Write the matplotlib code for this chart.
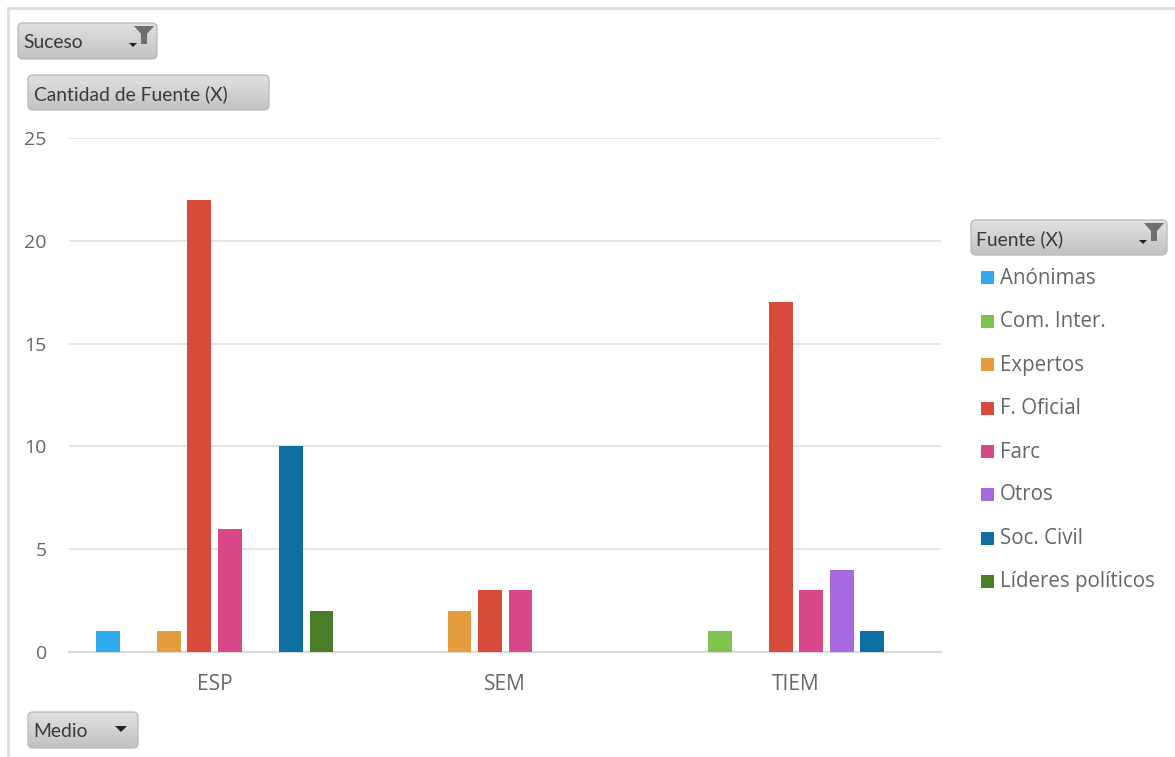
import numpy as np
import matplotlib
matplotlib.use('Agg')
import matplotlib.pyplot as plt
from matplotlib.patches import FancyBboxPatch, Rectangle, Polygon

groups = ['ESP', 'SEM', 'TIEM']
sources = ['Anónimas', 'Com. Inter.', 'Expertos', 'F. Oficial', 'Farc', 'Otros', 'Soc. Civil', 'Líderes políticos']
colors = ['#2fabee', '#7fc34e', '#e39d3f', '#d84a3a', '#d84888', '#a768e0', '#0e6fa3', '#4a7d2a']

anonimas = [1, 0, 0]
com_inter = [0, 0, 1]
expertos = [1, 2, 0]
f_oficial = [22, 3, 17]
farc = [6, 3, 3]
otros = [0, 0, 4]
soc_civil = [10, 0, 1]
lideres = [2, 0, 0]
series = [anonimas, com_inter, expertos, f_oficial, farc, otros, soc_civil, lideres]

yticks = [0, 5, 10, 15, 20, 25]

W, H = 1175, 757
plt.rcParams['font.family'] = ['Open Sans', 'DejaVu Sans']
fig = plt.figure(figsize=(W / 100, H / 100), dpi=100)

# plot area, pixel box
left, right, top, bottom = 69, 941, 138, 652
ax = fig.add_axes([left / W, 1 - bottom / H, (right - left) / W, (bottom - top) / H])
x = np.arange(len(groups))
step = 0.105
for i, vals in enumerate(series):
    ax.bar(x + (i - 3.5) * step + 0.001, vals, width=0.082, color=colors[i], zorder=3)
ax.set_xlim(-0.5, 2.5)
ax.set_ylim(0, 25)
ax.set_xticks(x)
ax.set_xticklabels(groups, fontsize=15, color='#666666')
ax.set_yticks(yticks)
ax.set_yticklabels([str(v) for v in yticks], fontsize=14, color='#666666')
ax.tick_params(length=0)
ax.tick_params(axis='x', pad=16)
ax.tick_params(axis='y', pad=16)
ax.grid(axis='y', color='#dddddd', lw=1.1, zorder=0)
ax.set_axisbelow(True)
for s in ['top', 'left', 'right']:
    ax.spines[s].set_visible(False)
ax.spines['bottom'].set_color('#d9d9d9')
ax.spines['bottom'].set_linewidth(1.6)

# overlay in image pixels for the pivot buttons, legend and frame
ov = fig.add_axes([0, 0, 1, 1], zorder=5)
ov.set_xlim(0, W)
ov.set_ylim(H, 0)
ov.axis('off')
ov.patch.set_alpha(0)

ov.plot([7.5, 7.5, W], [H, 8, 8], color='#dcdcdc', lw=2, solid_joinstyle='miter')


def button(x0, y0, x1, y1, label, kind=None):
    box = FancyBboxPatch((x0 + 3, y0 + 3), x1 - x0 - 6, y1 - y0 - 6,
                         boxstyle='round,pad=3,rounding_size=5',
                         fc='none', ec='#bdbdbd', lw=1, zorder=6)
    ov.add_patch(box)
    grad = np.linspace(0.88, 0.76, 64).reshape(-1, 1)
    im = ov.imshow(grad, extent=[x0, x1, y1, y0], cmap='gray', vmin=0, vmax=1,
                   aspect='auto', zorder=5)
    im.set_clip_path(box)
    ov.text(x0 + 5.5, (y0 + y1) / 2 + 1.5, label, fontsize=13.9, family='Lato',
            color='#3a3a3a', va='center', ha='left', zorder=7)
    if kind == 'filter':
        fx = x1 - 13
        ov.add_patch(Polygon([[fx - 10, y0 + 3], [fx + 10, y0 + 3], [fx + 3, y0 + 11],
                              [fx + 3, y0 + 21], [fx - 3, y0 + 21], [fx - 3, y0 + 11]],
                             fc='#6e6e6e', ec='none', zorder=8))
        ov.add_patch(Polygon([[fx - 15, y0 + 20], [fx - 7, y0 + 20], [fx - 11, y0 + 24]],
                             fc='#222222', ec='none', zorder=8))
    elif kind == 'drop':
        fx = x1 - 17
        ov.add_patch(Polygon([[fx - 6, y0 + 14], [fx + 6, y0 + 14], [fx, y0 + 20]],
                             fc='#222222', ec='none', zorder=8))


button(18, 23, 157, 59, 'Suceso', 'filter')
button(28, 75, 269, 110, 'Cantidad de Fuente (X)')
button(971, 220, 1167, 255, 'Fuente (X)', 'filter')
button(28, 712, 138, 748, 'Medio', 'drop')

ov.set_xlim(0, W)
ov.set_ylim(H, 0)

# legend
leg_y = [278, 321.5, 365, 408.5, 452, 495, 538.5, 582]
for name, c, ly in zip(sources, colors, leg_y):
    ov.add_patch(Rectangle((981, ly - 7), 13, 13, fc=c, ec='none', zorder=6))
    ov.text(999.5, ly, name, fontsize=14.8, color='#666666', va='center', ha='left', zorder=7)

fig.savefig('out.png', dpi=100)
